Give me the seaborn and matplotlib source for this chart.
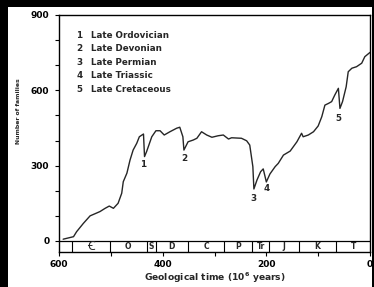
import numpy as np
import pandas as pd
import matplotlib
matplotlib.use('Agg')
import matplotlib.pyplot as plt
import seaborn as sns
from matplotlib.patches import Rectangle
from matplotlib.ticker import MultipleLocator

# Family diversity through the Phanerozoic
age = [592, 572, 566, 553, 540, 531, 521, 511, 503, 495, 486, 479, 476, 469, 463,
       457, 450, 445, 437, 435, 431, 421, 413, 405, 397, 386, 373, 367, 361, 359,
       351, 341, 334, 325, 315, 305, 293, 283, 273, 267, 248, 238, 232, 226, 224,
       218, 211, 206, 200, 193, 183, 177, 167, 154, 141, 132, 129, 119, 109, 100,
       93, 87, 80, 74, 68, 61, 58, 53, 46, 42, 35, 26, 16, 10, 0]
families = [7, 17, 37, 70, 100, 108, 117, 130, 139, 130, 150, 190, 236, 270, 322,
            362, 389, 415, 426, 336, 356, 415, 439, 439, 422, 435, 449, 453, 415, 362,
            395, 402, 409, 435, 422, 413, 419, 422, 406, 411, 409, 399, 382, 296, 207,
            243, 276, 287, 235, 267, 296, 309, 342, 358, 395, 429, 415, 422, 435, 458,
            495, 541, 548, 555, 581, 608, 528, 555, 614, 674, 688, 694, 708, 734, 751]

events = ['Late Ordovician', 'Late Devonian', 'Late Permian', 'Late Triassic', 'Late Cretaceous']
event_age = [437, 359, 224, 200, 61]
event_fam = [303, 329, 170, 208, 489]

# geological periods along the bottom strip
boundaries = [575, 502, 431, 413, 352, 281, 227, 194, 137, 65, 0]
periods = ['Ꞓ', 'O', 'S', 'D', 'C', 'P', 'Tr', 'J', 'K', 'T']

df = pd.DataFrame({'age': age, 'families': families})

sns.set_style('ticks')
plt.rcParams['font.family'] = ['DejaVu Sans', 'Noto Sans', 'Roboto', 'Open Sans',
                               'Lato', 'Inter', 'Liberation Sans']
plt.rcParams['font.weight'] = 'bold'

fig = plt.figure(figsize=(3.74, 2.87), dpi=100, facecolor='black')
fig.patches.append(Rectangle((8 / 374, 0), 364 / 374, 1 - 7 / 287,
                             transform=fig.transFigure, facecolor='white',
                             edgecolor='none', zorder=-10))
ax = fig.add_axes([59 / 374, 1 - 252 / 287, 311 / 374, 237 / 287])
ax.set_facecolor('white')

sns.lineplot(data=df, x='age', y='families', ax=ax, color='#262626',
             linewidth=1.0, sort=False, estimator=None)

ax.set_xlim(600, 0)
ax.set_ylim(-44, 900)

# period strip
ax.axhline(0, color='black', lw=0.9)
for b in boundaries[:-1]:
    ax.plot([b, b], [0, -44], color='black', lw=0.8)
for i, p in enumerate(periods):
    mid = (boundaries[i] + boundaries[i + 1]) / 2
    size = 9 if p == 'Ꞓ' else 5.5
    ax.text(mid, -22, p, ha='center', va='center', fontsize=size, fontweight='bold')

# numbered legend
for i, name in enumerate(events):
    y = 820 - i * 54
    ax.text(561, y, str(i + 1), ha='center', va='center', fontsize=6.3, fontweight='bold')
    ax.text(538, y, name, ha='left', va='center', fontsize=6.3, fontweight='bold')
for i in range(len(events)):
    ax.text(event_age[i], event_fam[i], str(i + 1), ha='center', va='center',
            fontsize=6.3, fontweight='bold')

ax.set_yticks([0, 300, 600, 900])
ax.yaxis.set_minor_locator(MultipleLocator(100))
ax.set_xticks([600, 400, 200, 0])
ax.set_xticks([500, 300, 100], minor=True)
ax.tick_params(axis='both', which='both', direction='out', length=3, width=0.8,
               labelsize=6.5, colors='black')
ax.tick_params(axis='y', pad=4)
ax.tick_params(axis='x', pad=3)
for lab in ax.get_xticklabels() + ax.get_yticklabels():
    lab.set_fontweight('bold')

for s in ax.spines.values():
    s.set_visible(True)
    s.set_linewidth(1.0)
    s.set_color('black')

ax.set_xlabel('Geological time (10$^{6}$ years)', fontsize=6.6, fontweight='bold', labelpad=1)
ax.set_ylabel('Number of families', fontsize=4.4, fontweight='bold')
ax.yaxis.set_label_coords(-0.122, 0.595)

fig.savefig('out.png', dpi=100, facecolor=fig.get_facecolor())
